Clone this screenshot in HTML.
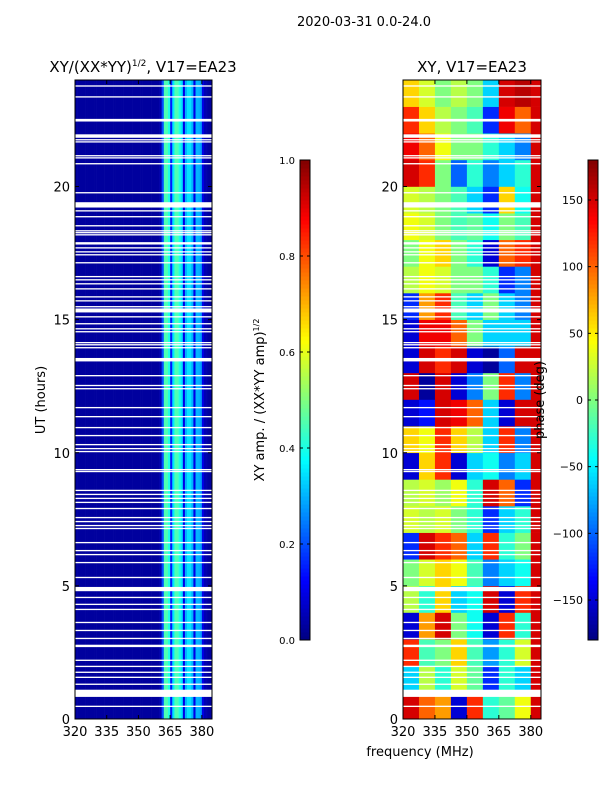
<!DOCTYPE html>
<html><head><meta charset="utf-8">
<style>
html,body{margin:0;padding:0;background:#fff;}
svg{display:block;font-family:"DejaVu Sans","Liberation Sans",sans-serif;}
</style></head>
<body>
<svg id="fig" width="600" height="800" viewBox="0 0 600 800" xmlns="http://www.w3.org/2000/svg">
<text x="364" y="26" font-size="13" text-anchor="middle">2020-03-31 0.0-24.0</text>
<text x="143" y="72" font-size="15" text-anchor="middle">XY/(XX*YY)<tspan font-size="9" dy="-6">1/2</tspan><tspan dy="6">, V17=EA23</tspan></text>
<text x="472" y="72" font-size="15" text-anchor="middle">XY, V17=EA23</text>
<text transform="translate(45,400) rotate(-90)" font-size="13" text-anchor="middle">UT (hours)</text>
<text x="420" y="756" font-size="13" text-anchor="middle">frequency (MHz)</text>
<text transform="translate(264,400) rotate(-90)" font-size="13" text-anchor="middle">XY amp. / (XX*YY amp)<tspan font-size="8" dy="-5">1/2</tspan></text>
<g id="left"></g>
<g id="right"></g>
<text transform="translate(544,400) rotate(-90)" font-size="13" text-anchor="middle">phase (deg)</text>
<g id="cb1"></g>
<g id="cb2"></g>
</svg>
<script>
// amplitude per 1-MHz bin, 320..384
const ampFreqStart = 320;
const ampValues = [
0.03,0.03,0.03,0.03,0.03,0.03,0.03,0.03,0.03,0.03,
0.03,0.03,0.03,0.03,0.03,0.03,0.03,0.03,0.03,0.03,
0.03,0.03,0.03,0.03,0.03,0.03,0.03,0.03,0.03,0.03,
0.03,0.03,0.03,0.03,0.03,0.03,0.03,0.03,0.03,0.03,
0.05,0.2,0.45,0.45,0.4,0.15,0.35,0.45,0.45,0.4,
0.35,0.1,0.3,0.35,0.35,0.3,0.1,0.3,0.3,0.28,
0.1,0.05,0.04,0.03,0.03];
// phase grid: rows = hours 0..23, columns = frequency bins
const phaseFreqEdges = [320,327.5,335,342.5,350,357.5,365,372.5,380,385];
const phaseRows = [
[150,100,80,-150,120,-30,-10,40,150],
[-60,20,-30,30,-10,-120,-30,-60,150],
[120,-20,0,60,-20,-80,-30,30,150],
[-150,80,150,0,-40,-150,120,-30,150],
[20,-30,60,-60,-40,150,-150,120,150],
[0,30,60,40,-20,-90,-60,-40,150],
[-120,150,120,100,-60,120,-30,0,150],
[30,20,30,0,-30,-120,-60,-30,150],
[20,30,10,40,-30,150,100,-120,150],
[-150,60,120,-150,-60,-40,-90,-60,150],
[60,40,120,60,20,-60,120,-90,150],
[-150,-130,150,140,100,-60,-150,150,150],
[150,-170,150,-150,-90,0,120,-90,150],
[-150,150,120,150,-150,-170,-100,150,150],
[-150,140,140,100,0,-60,-60,-60,150],
[-120,80,120,-20,-60,0,-60,-90,150],
[20,40,30,0,0,-30,-120,-90,150],
[0,40,60,0,-30,-150,100,120,150],
[40,30,0,-20,-10,-40,0,-20,150],
[30,20,0,-20,-60,-120,60,-40,150],
[150,120,0,-100,-30,-90,-60,-30,150],
[140,100,40,0,0,-30,-60,-90,150],
[120,60,20,0,-20,-120,140,100,150],
[60,30,0,20,0,-60,150,160,150]];
// flagged time gaps: start hour, duration hours
const gapStart = [23.75,23.34,22.44,21.83,21.73,21.65,21.13,21.05,20.83,19.74,19.21,19.06,18.84,18.50,18.31,18.24,18.16,17.82,17.67,17.52,17.41,17.11,16.59,16.47,16.32,16.13,15.83,15.68,15.46,15.27,15.08,14.82,14.63,14.52,14.11,14.03,13.92,13.43,12.87,12.50,12.38,11.67,11.33,10.92,10.62,10.28,10.13,10.02,9.34,9.27,8.56,8.41,8.26,8.11,7.88,7.54,7.39,7.24,7.13,6.60,6.30,6.15,5.85,5.29,4.80,4.54,4.28,4.09,3.60,3.30,3.00,2.70,2.18,1.95,1.73,1.54,1.28,0.83,0.45];
const gapDur = [0.05,0.05,0.1,0.13,0.05,0.05,0.05,0.05,0.05,0.05,0.2,0.05,0.05,0.05,0.05,0.05,0.05,0.09,0.05,0.05,0.05,0.05,0.05,0.05,0.05,0.05,0.05,0.05,0.05,0.15,0.05,0.05,0.05,0.05,0.05,0.05,0.05,0.13,0.05,0.05,0.05,0.05,0.05,0.05,0.05,0.05,0.05,0.05,0.05,0.05,0.05,0.05,0.05,0.05,0.05,0.05,0.05,0.05,0.05,0.05,0.05,0.05,0.05,0.05,0.16,0.05,0.05,0.05,0.05,0.05,0.05,0.09,0.05,0.05,0.05,0.05,0.05,0.27,0.05];
const xTicks = [320,335,350,365,380];
const yTicks = [0,5,10,15,20];
const ampTicks = [0.0,0.2,0.4,0.6,0.8,1.0];
const phaseTicks = [-150,-100,-50,0,50,100,150];

const NS="http://www.w3.org/2000/svg";
function mk(tag,attrs,parent){const e=document.createElementNS(NS,tag);for(const k in attrs)e.setAttribute(k,attrs[k]);parent.appendChild(e);return e;}
function jet(v){v=Math.max(0,Math.min(1,v));
 const r=Math.max(0,Math.min(1,1.5-Math.abs(4*v-3))),g=Math.max(0,Math.min(1,1.5-Math.abs(4*v-2))),b=Math.max(0,Math.min(1,1.5-Math.abs(4*v-1)));
 return `rgb(${Math.round(r*255)},${Math.round(g*255)},${Math.round(b*255)})`;}
const Y0=719,Y1=80,T0=0,T1=24;
function yS(h){return Y0-(h-T0)/(T1-T0)*(Y0-Y1);}
function makeX(x0,x1){return f=>x0+(f-320)/(384.8-320)*(x1-x0);}
const xL=makeX(75,212), xR=makeX(403,541);

function axes(g,xs,x0,x1,nm){
 for(const t of xTicks){const x=xs(t);
  const tk=mk('line',{x1:x,x2:x,y1:Y0,y2:Y0-4,stroke:'#000'},g);
  
  mk('line',{x1:x,x2:x,y1:Y1,y2:Y1+4,stroke:'#000'},g);
  const tl=mk('text',{x:x,y:Y0+17,'font-size':13,'text-anchor':'middle'},g);tl.textContent=t;
  }
 for(const t of yTicks){const y=yS(t);
  mk('line',{x1:x0,x2:x0+4,y1:y,y2:y,stroke:'#000'},g);
  mk('line',{x1:x1,x2:x1-4,y1:y,y2:y,stroke:'#000'},g);
  const tl=mk('text',{x:x0-5,y:y+5,'font-size':13,'text-anchor':'end'},g);tl.textContent=t;
  }
 const fr=mk('rect',{x:x0,y:Y1,width:x1-x0,height:Y0-Y1,fill:'none',stroke:'#000','stroke-width':1},g);
 
}
function gaps(g,x0,x1){
 gapStart.forEach((s,i)=>{const r=mk('rect',{x:x0,y:yS(s+gapDur[i]),width:x1-x0,height:Math.max(1.2,yS(s)-yS(s+gapDur[i])),fill:'#fff'},g);
  });
}
// left amplitude
const gl=document.getElementById('left');
ampValues.forEach((v,i)=>{const xa=xL(ampFreqStart+i),xb=Math.min(212,xL(ampFreqStart+i+1));if(xb<=xa)return;
 const r=mk('rect',{x:xa,y:Y1,width:xb-xa+0.3,height:Y0-Y1,fill:jet(v)},gl);
 });
gaps(gl,75,212);axes(gl,xL,75,212,'amp');
// right phase
const gr=document.getElementById('right');
phaseRows.forEach((row,h)=>{row.forEach((p,j)=>{const xa=xR(phaseFreqEdges[j]),xb=Math.min(541,xR(phaseFreqEdges[j+1]));
 const r=mk('rect',{x:xa,y:yS(h+1),width:xb-xa+0.3,height:yS(h)-yS(h+1)+0.3,fill:jet((p+180)/360)},gr);
 });});
gaps(gr,403,541);axes(gr,xR,403,541,'phase');
// colorbars
function colorbar(g,x,lo,hi,ticks,fmt,nm){
 const n=120,top=160,bot=640;
 for(let i=0;i<n;i++){mk('rect',{x:x,y:bot-(i+1)*(bot-top)/n,width:10,height:(bot-top)/n+0.5,fill:jet((i+0.5)/n)},g);}
 const fr=mk('rect',{x:x,y:top,width:10,height:bot-top,fill:'none',stroke:'#000'},g);
 
 for(const t of ticks){const y=bot-(t-lo)/(hi-lo)*(bot-top);
  mk('line',{x1:x,x2:x+3,y1:y,y2:y,stroke:'#000'},g);mk('line',{x1:x+10,x2:x+7,y1:y,y2:y,stroke:'#000'},g);
  const tl=mk('text',{x:x-5,y:y+4,'font-size':nm==='amp'?10:11,'text-anchor':'end'},g);tl.textContent=fmt(t);
  }
}
colorbar(document.getElementById('cb1'),300,0,1,ampTicks,t=>t.toFixed(1),'amp');
colorbar(document.getElementById('cb2'),588,-180,180,phaseTicks,t=>t<0?'\u2212'+(-t):String(t),'phase');
</script>
</body></html>
